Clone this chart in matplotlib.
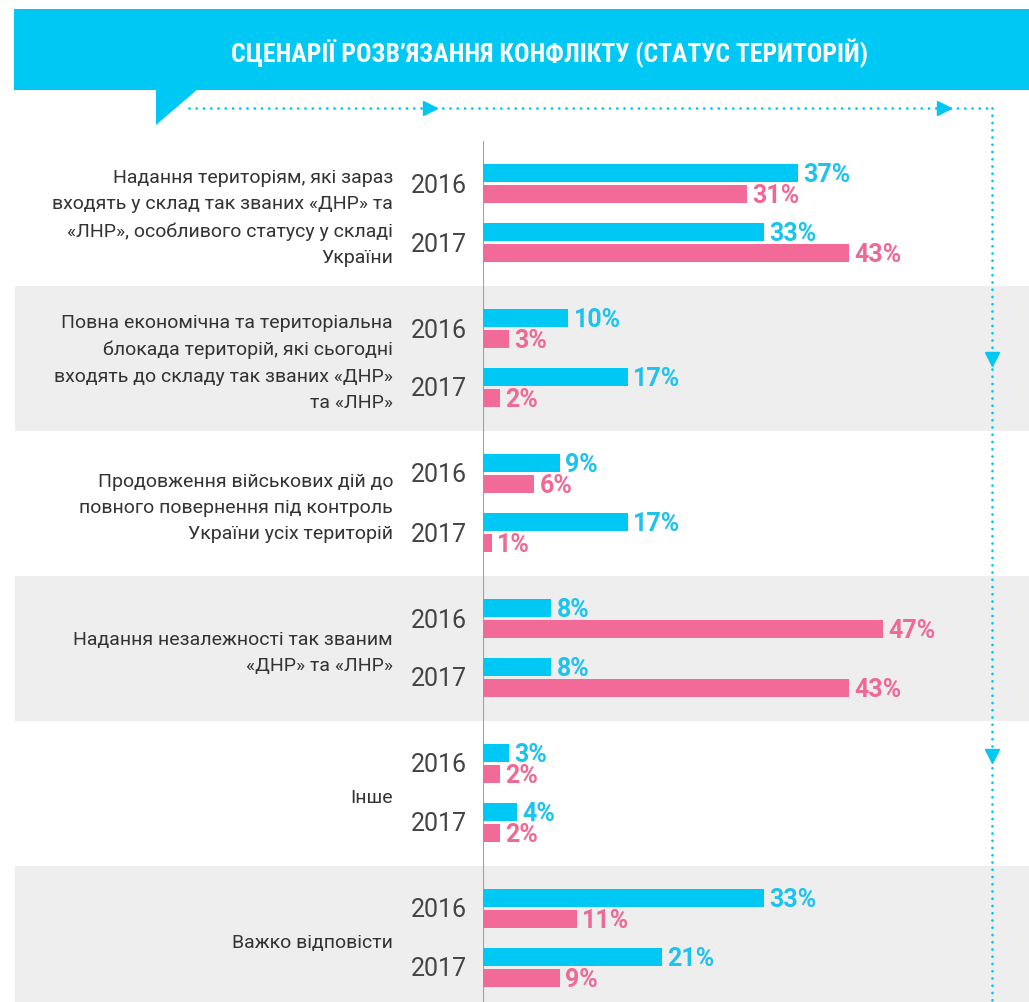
import matplotlib.pyplot as plt
from matplotlib.patches import Rectangle, Polygon

# Дані
categories = [
    "Надання територіям, які зараз\nвходять у склад так званих «ДНР» та\n«ЛНР», особливого статусу у складі\nУкраїни",
    "Повна економічна та територіальна\nблокада територій, які сьогодні\nвходять до складу так званих «ДНР»\nта «ЛНР»",
    "Продовження військових дій до\nповного повернення під контроль\nУкраїни усіх територій",
    "Надання незалежності так званим\n«ДНР» та «ЛНР»",
    "Інше",
    "Важко відповісти",
]
years = ["2016", "2017"]
blue_2016 = [37, 10, 9, 8, 3, 33]
pink_2016 = [31, 3, 6, 47, 2, 11]
blue_2017 = [33, 17, 17, 8, 4, 21]
pink_2017 = [43, 2, 1, 43, 2, 9]
title = "СЦЕНАРІЇ РОЗВ’ЯЗАННЯ КОНФЛІКТУ (СТАТУС ТЕРИТОРІЙ)"

# Кольори
BLUE = "#00C8F4"
PINK = "#F26B98"
BLUE_TXT = "#1CC3EE"
PINK_TXT = "#EE6A94"
GRAY_BG = "#EEEEEE"

W, H = 1029, 1003
fig = plt.figure(figsize=(W / 100, H / 100), dpi=100)

# фон / декор у піксельних координатах
bg = fig.add_axes([0, 0, 1, 1], zorder=0)
bg.set_xlim(0, W)
bg.set_ylim(H, 0)
bg.axis("off")

# вісь для стовпчиків (шкала у відсотках)
x0 = 483
px_per_pct = 8.5
ax = fig.add_axes([x0 / W, 0, (W - x0) / W, 1], zorder=2)
ax.set_xlim(0, (W - x0) / px_per_pct)
ax.set_ylim(H, 0)
ax.axis("off")
ax.patch.set_alpha(0)

# розмітка груп
first_center = 214
pitch = 145
centers = [first_center + i * pitch for i in range(len(categories))]
year_off = 29.5
bar_off = 10.5
bar_h = 18

# шапка
bg.add_patch(Rectangle((14, 10), W - 14, 81, color=BLUE, lw=0))
bg.add_patch(Polygon([(156, 90), (198, 90), (156, 126)], closed=True, color=BLUE, lw=0))
bg.text(550, 53, title, color="white", fontsize=18.5, fontweight="bold",
        ha="center", va="center",
        family=["Roboto Condensed", "Liberation Sans Narrow", "Roboto", "DejaVu Sans"])

# сірі смуги
for i, c in enumerate(centers):
    if i % 2 == 1:
        bottom = min(c + pitch / 2, H)
        bg.add_patch(Rectangle((15, c - pitch / 2), W - 15, bottom - (c - pitch / 2),
                               color=GRAY_BG, lw=0))

# пунктирна стрілка
dot = dict(color=BLUE, lw=2.0, linestyle=(0, (0.01, 2.6)), dash_capstyle="round")
bg.plot([189, 992], [109, 109], **dot)
bg.plot([992, 992], [109, H], **dot)
bg.plot([430, 944], [109, 109], ls="none", marker=">", ms=10, color=BLUE)
bg.plot([992, 992], [360, 757], ls="none", marker="v", ms=10, color=BLUE)

# вертикальна вісь
ax.plot([0, 0], [143, H], color="#A0A0A0", lw=1.5, zorder=1)

# стовпчики
series = [(blue_2016, pink_2016), (blue_2017, pink_2017)]
for yi, (bvals, pvals) in enumerate(series):
    sign = -1 if yi == 0 else 1
    ycen = [c + sign * year_off for c in centers]
    yb = [y - bar_off for y in ycen]
    yp = [y + bar_off for y in ycen]
    ax.barh(yb, bvals, height=bar_h, color=BLUE, lw=0, zorder=3)
    ax.barh(yp, pvals, height=bar_h, color=PINK, lw=0, zorder=3)
    for y, v in zip(yb, bvals):
        ax.annotate(f"{v}%", (v, y + 1), xytext=(4, 0), textcoords="offset points",
                    ha="left", va="center", color=BLUE_TXT, fontsize=18,
                    fontweight="bold", family="Roboto", zorder=4)
    for y, v in zip(yp, pvals):
        ax.annotate(f"{v}%", (v, y + 1), xytext=(4, 0), textcoords="offset points",
                    ha="left", va="center", color=PINK_TXT, fontsize=18,
                    fontweight="bold", family="Roboto", zorder=4)
    for y in ycen:
        bg.text(467, y + 1, years[yi], ha="right", va="center", fontsize=18,
                color="#444444", family="Roboto")

# назви сценаріїв
for c, label in zip(centers, categories):
    bg.text(393, c + 4, label, ha="right", va="center", fontsize=14,
            color="#333333", family="Roboto", linespacing=1.6)

fig.savefig("out.png", dpi=100)
